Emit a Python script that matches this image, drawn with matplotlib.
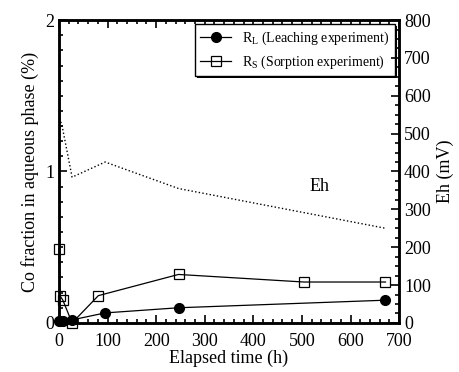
import matplotlib
matplotlib.use("Agg")
import matplotlib.pyplot as plt
from matplotlib.ticker import MultipleLocator
import matplotlib.patheffects as pe

plt.rcParams['font.family'] = ['Liberation Serif', 'DejaVu Serif']
plt.rcParams['mathtext.fontset'] = 'custom'
plt.rcParams['mathtext.rm'] = 'Liberation Serif'

# Data
rl_time = [0, 3, 8, 27, 95, 246, 672]
rl_frac = [0.01, 0.01, 0.01, 0.02, 0.066, 0.10, 0.15]
rs_time = [0, 2, 8, 27, 81, 246, 504, 672]
rs_frac = [0.49, 0.18, 0.15, 0.0, 0.18, 0.32, 0.27, 0.27]
eh_time = [0, 8, 27, 95, 246, 672]
eh_mv = [550, 510, 385, 425, 355, 250]

fig = plt.figure(figsize=(4.59, 3.72), dpi=100)
ax = fig.add_axes([0.1285, 0.132, 0.741, 0.814])
ax2 = ax.twinx()

ax.plot(rl_time, rl_frac, '-', color='black', lw=0.9, marker='o', ms=7,
        mfc='black', mec='black', label=r'R$_\mathregular{L}$ (Leaching experiment)', zorder=5, clip_on=False)
ax.plot(rs_time, rs_frac, '-', color='black', lw=0.9, marker='s', ms=7,
        mfc='none', mec='black', mew=0.9, label=r'R$_\mathregular{S}$ (Sorption experiment)', zorder=5, clip_on=False)
ax2.plot(eh_time, eh_mv, ':', color='black', lw=1.0)

ax.set_xlim(0, 700)
ax.set_ylim(0, 2)
ax2.set_ylim(0, 800)

ax.xaxis.set_major_locator(MultipleLocator(100))
ax.xaxis.set_minor_locator(MultipleLocator(20))
ax.yaxis.set_major_locator(MultipleLocator(1))
ax.yaxis.set_minor_locator(MultipleLocator(0.1))
ax2.yaxis.set_major_locator(MultipleLocator(100))
ax2.yaxis.set_minor_locator(MultipleLocator(25))

ax.tick_params(which='both', direction='in', top=True, right=False, labelsize=13, width=1.2)
ax.tick_params(which='major', length=6)
ax.tick_params(which='minor', length=3)
ax.tick_params(axis='x', pad=7)
ax2.tick_params(which='both', direction='in', labelsize=13, width=1.2)
ax2.tick_params(which='major', length=6)
ax2.tick_params(which='minor', length=3)

for a in (ax, ax2):
    for s in a.spines.values():
        s.set_linewidth(1.8)

ax.set_xlabel('Elapsed time (h)', fontsize=13, labelpad=0)
ax.set_ylabel('Co fraction in aqueous phase (%)', fontsize=13, labelpad=4)
ax2.set_ylabel('Eh (mV)', fontsize=13, labelpad=4)

ax.text(536, 0.9, 'Eh', fontsize=13, ha='center', va='center')

leg = ax.legend(loc='upper right', fontsize=10, frameon=True, fancybox=False,
                edgecolor='black', facecolor='white', framealpha=1.0,
                handlelength=2.2, borderaxespad=0.3, labelspacing=0.45)
frame = leg.get_frame()
frame.set_linewidth(1.0)
frame.set_path_effects([pe.SimplePatchShadow(offset=(1.5, -1.5), shadow_rgbFace='black', alpha=1.0),
                        pe.Normal()])

fig.savefig('out.png', dpi=100)
